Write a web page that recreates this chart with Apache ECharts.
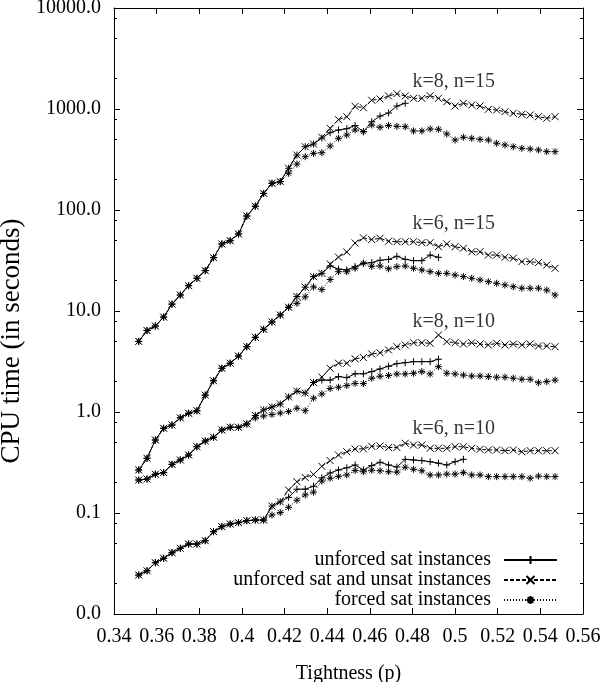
<!DOCTYPE html>
<html>
<head>
<meta charset="utf-8">
<script src="https://cdn.jsdelivr.net/npm/echarts@6/dist/echarts.min.js"></script>
<style>
  html, body { margin: 0; padding: 0; background: #fff; }
  #chart { width: 603px; height: 682px; }
</style>
</head>
<body>
<div id="chart"></div>
<script>
// tightness p (x axis), 1/256 steps
const tightness = [
  0.3516, 0.3555, 0.3594, 0.3633, 0.3672, 0.3711, 0.375, 0.3789, 0.3828, 0.3867,
  0.3906, 0.3945, 0.3984, 0.4023, 0.4063, 0.4102, 0.4141, 0.418, 0.4219, 0.4258,
  0.4297, 0.4336, 0.4375, 0.4414, 0.4453, 0.4492, 0.4531, 0.457, 0.4609, 0.4648,
  0.4688, 0.4727, 0.4766, 0.4805, 0.4844, 0.4883, 0.4922, 0.4961, 0.5, 0.5039,
  0.5078, 0.5117, 0.5156, 0.5195, 0.5234, 0.5273, 0.5313, 0.5352, 0.5391, 0.543,
  0.5469
]

// k=8, n=15
const k8n15Sat = [
  5.0, 6.4, 7.1, 8.7, 11.7, 14.4, 17.8, 21.1, 25.1, 33.7,
  46.1, 49.7, 57.9, 87.2, 109, 146, 184, 191, 259, 350,
  423, 450, 516, 583, 620, 638, 686, 596, 748, 852,
  913, 1071, 1139
]
const k8n15All = [
  5.0, 6.4, 7.1, 8.7, 11.7, 14.4, 17.8, 21.1, 25.1, 33.7,
  46.1, 49.7, 57.9, 87.2, 109, 146, 184, 191, 259, 350,
  423, 450, 525, 644, 785, 839, 1063, 1030, 1220, 1256,
  1345, 1417, 1345, 1276, 1276, 1354, 1276, 1181, 1071, 1139,
  1095, 1071, 993, 977, 940, 907, 886, 872, 839, 809,
  839
]
const k8n15Forced = [
  5.0, 6.4, 7.1, 8.7, 11.7, 14.4, 17.8, 21.1, 25.1, 33.7,
  46.1, 49.7, 57.9, 87.2, 109, 146, 184, 191, 231, 285,
  337, 364, 369, 430, 513, 553, 620, 596, 694, 659,
  686, 674, 668, 606, 606, 634, 630, 566, 493, 525,
  513, 501, 493, 458, 440, 423, 408, 402, 393, 378,
  378
]

// k=6, n=15
const k6n15Sat = [
  0.267, 0.348, 0.528, 0.69, 0.744, 0.876, 0.971, 1.03, 1.47, 2.04,
  2.71, 3.04, 3.58, 4.43, 5.49, 6.59, 7.78, 9.13, 10.9, 13.9,
  17.2, 21.9, 23.6, 27.9, 26.0, 25.5, 27.5, 29.7, 30.1, 31.8,
  32.4, 34.8, 32.5, 31.5, 31.5, 35.8, 34.0
]
const k6n15All = [
  0.267, 0.348, 0.528, 0.69, 0.744, 0.876, 0.971, 1.03, 1.47, 2.04,
  2.71, 3.04, 3.58, 4.43, 5.49, 6.59, 7.78, 9.13, 10.9, 13.9,
  17.2, 21.9, 23.6, 29.2, 34.2, 38.4, 47.1, 53.0, 51.0, 52.5,
  49.1, 48.5, 48.5, 48.5, 47.5, 47.5, 43.3, 46.1, 43.3, 41.8,
  38.6, 38.6, 35.8, 35.8, 34.0, 33.3, 30.8, 30.8, 30.1, 28.5,
  26.5
]
const k6n15Forced = [
  0.267, 0.348, 0.528, 0.69, 0.744, 0.876, 0.971, 1.03, 1.47, 2.04,
  2.71, 3.04, 3.58, 4.43, 5.49, 6.59, 7.78, 9.13, 10.9, 11.9,
  13.8, 17.3, 16.3, 20.5, 24.5, 24.5, 26.5, 29.7, 27.7, 27.9,
  26.2, 27.5, 27.9, 26.5, 25.5, 24.5, 23.6, 23.6, 22.7, 21.9,
  21.1, 20.3, 19.5, 18.8, 18.1, 17.4, 16.8, 16.8, 16.8, 16.1,
  14.4
]

// k=8, n=10
const k8n10Sat = [
  0.212, 0.217, 0.242, 0.251, 0.303, 0.335, 0.375, 0.453, 0.516, 0.562,
  0.663, 0.706, 0.706, 0.761, 0.923, 1.05, 1.12, 1.2, 1.41, 1.61,
  1.54, 1.96, 2.07, 2.07, 2.24, 2.19, 2.39, 2.39, 2.51, 2.67,
  2.84, 3.01, 3.08, 3.15, 3.15, 3.15, 3.33
]
const k8n10All = [
  0.212, 0.217, 0.242, 0.251, 0.303, 0.335, 0.375, 0.453, 0.516, 0.562,
  0.663, 0.706, 0.706, 0.761, 0.923, 1.05, 1.12, 1.2, 1.41, 1.61,
  1.54, 1.96, 2.22, 2.71, 3.04, 3.04, 3.36, 3.46, 3.75, 3.86,
  4.11, 4.43, 4.61, 4.85, 4.85, 4.79, 5.79, 4.97, 4.85, 4.71,
  4.85, 4.71, 4.61, 4.79, 4.61, 4.71, 4.61, 4.71, 4.50, 4.50,
  4.43
]
const k8n10Forced = [
  0.212, 0.217, 0.242, 0.251, 0.303, 0.335, 0.375, 0.453, 0.516, 0.562,
  0.663, 0.706, 0.706, 0.761, 0.872, 0.913, 0.944, 0.977, 1.01, 1.09,
  1.03, 1.37, 1.51, 1.71, 1.76, 1.83, 1.92, 1.91, 2.16, 2.26,
  2.30, 2.38, 2.38, 2.42, 2.51, 2.38, 2.81, 2.42, 2.38, 2.32,
  2.27, 2.27, 2.24, 2.21, 2.21, 2.16, 2.11, 2.11, 1.95, 2.0,
  2.07
]

// k=6, n=10
const k6n10Sat = [
  0.0243, 0.0268, 0.0322, 0.0356, 0.0404, 0.0447, 0.0493, 0.0493, 0.0532, 0.0653,
  0.0732, 0.0778, 0.0802, 0.0839, 0.0852, 0.0852, 0.117, 0.129, 0.143, 0.172,
  0.172, 0.184, 0.223, 0.249, 0.267, 0.280, 0.299, 0.267, 0.295, 0.318,
  0.299, 0.285, 0.340, 0.335, 0.330, 0.322, 0.311, 0.299, 0.322, 0.340
]
const k6n10All = [
  0.0243, 0.0268, 0.0322, 0.0356, 0.0404, 0.0447, 0.0493, 0.0493, 0.0532, 0.0653,
  0.0732, 0.0778, 0.0802, 0.0839, 0.0852, 0.0852, 0.117, 0.129, 0.169, 0.204,
  0.225, 0.241, 0.290, 0.330, 0.375, 0.404, 0.430, 0.432, 0.457, 0.461,
  0.445, 0.445, 0.490, 0.471, 0.471, 0.437, 0.437, 0.437, 0.453, 0.453,
  0.437, 0.427, 0.421, 0.421, 0.414, 0.421, 0.404, 0.414, 0.414, 0.414,
  0.414
]
const k6n10Forced = [
  0.0243, 0.0268, 0.0322, 0.0356, 0.0404, 0.0447, 0.0493, 0.0493, 0.0532, 0.0653,
  0.0732, 0.0778, 0.0802, 0.0839, 0.0852, 0.0852, 0.0955, 0.101, 0.114, 0.134,
  0.151, 0.161, 0.207, 0.221, 0.231, 0.238, 0.264, 0.256, 0.265, 0.262,
  0.256, 0.254, 0.284, 0.271, 0.262, 0.238, 0.238, 0.243, 0.243, 0.251,
  0.238, 0.238, 0.229, 0.229, 0.229, 0.229, 0.229, 0.221, 0.232, 0.229,
  0.229
]

const legendNames = [
  'unforced sat instances',
  'unforced sat and unsat instances',
  'forced sat instances',
]

// curve labels
const labelTexts = ['k=8, n=15', 'k=6, n=15', 'k=8, n=10', 'k=6, n=10']
const labelX = [0.48, 0.48, 0.48, 0.48]
const labelY = [1850, 73, 7.8, 0.68]

const xTicks = [0.34, 0.56, 0.02] // min, max, step
const yMajorTicks = [0.01, 0.1, 1, 10, 100, 1000, 10000]
const yMinorTicks = [
  0.02, 0.05, 0.08, 0.2, 0.5, 0.8, 2, 5, 8,
  20, 50, 80, 200, 500, 800, 2000, 5000, 8000,
]

const FONT = 'Liberation Serif'
const BLACK = '#000'

const SYMBOLS = [
  'path://M5,0L5,10M0,5L10,5',
  'path://M0,0L10,10M10,0L0,10',
  'path://M5,0L5,10M0,5L10,5M1.5,1.5L8.5,8.5M8.5,1.5L1.5,8.5',
]
const DASHES = ['solid', [4, 2], [1, 2]]

const chart = echarts.init(document.getElementById('chart'), null, { renderer: 'canvas' })

const zip = ys => ys.map((y, i) => [tightness[i], y])

const groups = [
  [k8n15Sat, k8n15All, k8n15Forced],
  [k6n15Sat, k6n15All, k6n15Forced],
  [k8n10Sat, k8n10All, k8n10Forced],
  [k6n10Sat, k6n10All, k6n10Forced],
]

const series = []
groups.forEach(g => {
  g.forEach((ys, k) => {
    series.push({
      name: legendNames[k],
      type: 'line',
      data: zip(ys),
      symbol: SYMBOLS[k],
      symbolSize: 7,
      showSymbol: true,
      lineStyle: { color: BLACK, width: 1, type: DASHES[k] },
      itemStyle: { color: BLACK, borderColor: BLACK, borderWidth: 1 },
      silent: true,
    })
  })
})

series.push({
  name: 'labels',
  type: 'scatter',
  symbolSize: 0,
  silent: true,
  data: labelTexts.map((t, i) => [labelX[i], labelY[i], t]),
  label: {
    show: true,
    position: 'right',
    distance: 0,
    formatter: p => p.data[2],
    fontFamily: FONT,
    fontSize: 20,
    color: BLACK,
  },
})

const logAxis = (extra) => Object.assign({
  type: 'log',
  logBase: 10,
  min: yMajorTicks[0],
  max: yMajorTicks[yMajorTicks.length - 1],
  gridIndex: 0,
  splitLine: { show: false },
  axisLine: { show: false },
  axisLabel: { show: false },
}, extra)

const option = {
  animation: false,
  backgroundColor: '#fff',
  grid: { left: 114, right: 20, top: 8, bottom: 68, outerBoundsMode: 'none', containLabel: false },
  legend: {
    data: legendNames,
    orient: 'vertical',
    align: 'right',
    right: 40,
    bottom: 67,
    padding: 5,
    itemWidth: 53,
    itemHeight: 10,
    itemGap: 0,
    selectedMode: false,
    textStyle: { fontFamily: FONT, fontSize: 20, color: BLACK, lineHeight: 20, padding: [0, 8, 0, 0] },
  },
  xAxis: [
    {
      type: 'value',
      position: 'bottom',
      min: xTicks[0],
      max: xTicks[1],
      interval: xTicks[2],
      name: 'Tightness (p)',
      nameLocation: 'middle',
      nameGap: 50,
      nameTextStyle: { fontFamily: FONT, fontSize: 20, color: BLACK },
      axisLine: { show: true, onZero: false, lineStyle: { color: BLACK, width: 1 } },
      axisTick: { show: true, inside: true, length: 6, lineStyle: { color: BLACK } },
      axisLabel: {
        margin: 13,
        fontFamily: FONT,
        fontSize: 20,
        color: BLACK,
        formatter: v => String(+v.toFixed(2)),
      },
      splitLine: { show: false },
    },
    {
      type: 'value',
      position: 'top',
      min: xTicks[0],
      max: xTicks[1],
      interval: xTicks[2],
      axisLine: { show: true, onZero: false, lineStyle: { color: BLACK, width: 1 } },
      axisTick: { show: true, inside: true, length: 6, lineStyle: { color: BLACK } },
      axisLabel: { show: false },
      splitLine: { show: false },
    },
  ],
  yAxis: [
    logAxis({
      position: 'left',
      name: 'CPU time (in seconds)',
      nameLocation: 'middle',
      nameRotate: 90,
      nameGap: 80,
      nameTextStyle: { fontFamily: FONT, fontSize: 27, color: BLACK, padding: [0, 60, 0, 0] },
      axisLine: { show: true, onZero: false, lineStyle: { color: BLACK, width: 1 } },
      axisTick: { show: true, inside: true, length: 6, lineStyle: { color: BLACK } },
      axisLabel: {
        show: true,
        margin: 13,
        fontFamily: FONT,
        fontSize: 20,
        color: BLACK,
        formatter: v => v.toFixed(1),
      },
    }),
    logAxis({
      position: 'left',
      axisTick: { show: true, inside: true, length: 3, customValues: yMinorTicks, lineStyle: { color: BLACK } },
    }),
    logAxis({
      position: 'right',
      axisLine: { show: true, onZero: false, lineStyle: { color: BLACK, width: 1 } },
      axisTick: { show: true, inside: true, length: 6, lineStyle: { color: BLACK } },
    }),
    logAxis({
      position: 'right',
      axisTick: { show: true, inside: true, length: 3, customValues: yMinorTicks, lineStyle: { color: BLACK } },
    }),
  ],
  series,
}

chart.setOption(option)
</script>
</body>
</html>
